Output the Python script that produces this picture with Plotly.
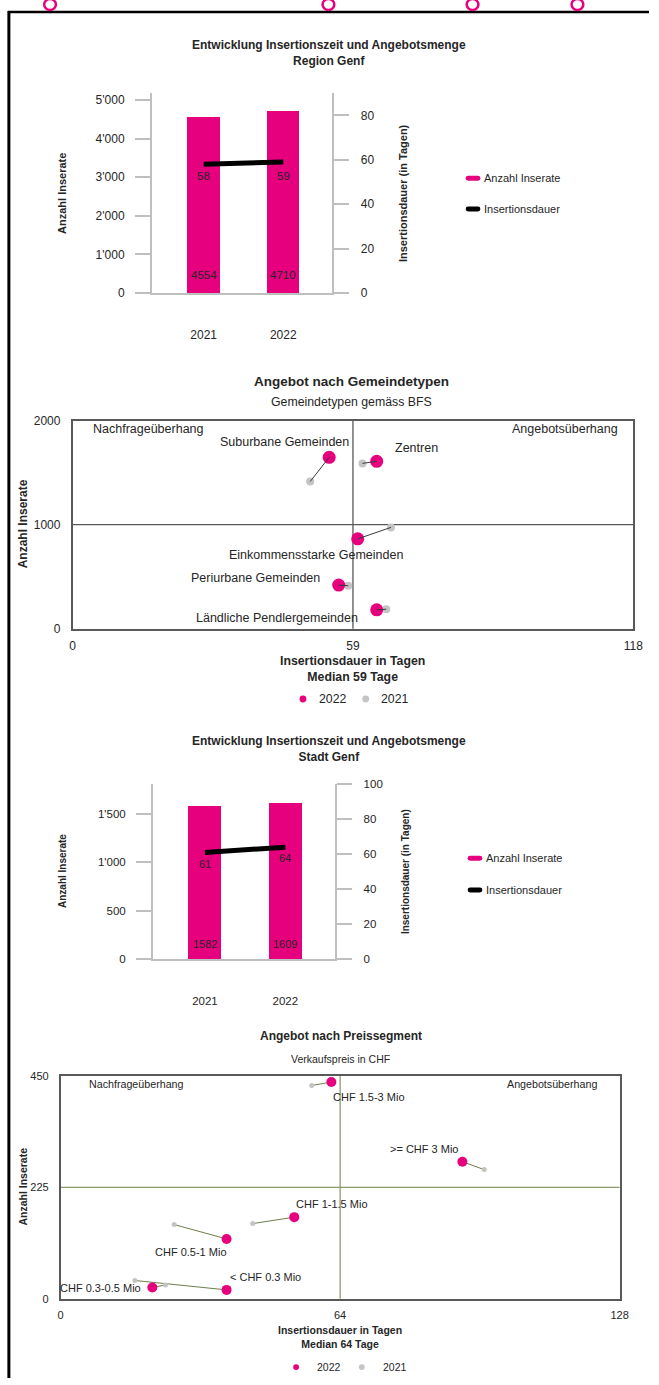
import plotly.graph_objects as go

W, H = 659, 1385
def PX(x): return x / W
def PY(y): return 1 - y / H

PINK = "#E6007E"
GREY_PT = "#C4C4C4"
AXIS_GREY = "#BFBFBF"
BOX = "#595959"
OLIVE = "#8C9B6A"
OLIVE_DARK = "#6E7F48"
TEXT = "#262626"
FONT = "Liberation Sans, Arial, sans-serif"

# ---------------- data ----------------
years = ["2021", "2022"]
region_listings = [4554, 4710]
region_days = [58, 59]
city_listings = [1582, 1609]
city_days = [61, 64]

gem_types = ["Suburbane Gemeinden", "Zentren", "Einkommensstarke Gemeinden",
             "Periurbane Gemeinden", "Ländliche Pendlergemeinden"]
gem_days_2022 = [54, 64, 60, 56, 64]
gem_listings_2022 = [1648, 1610, 864, 419, 181]
gem_days_2021 = [50, 61, 67, 58, 66]
gem_listings_2021 = [1416, 1590, 974, 413, 187]
gem_median_days = 59
gem_median_listings = 1000

price_segments = ["CHF 1.5-3 Mio", ">= CHF 3 Mio", "CHF 1-1.5 Mio",
                  "CHF 0.5-1 Mio", "< CHF 0.3 Mio", "CHF 0.3-0.5 Mio"]
price_days_2022 = [62, 92, 53.5, 38, 38, 21]
price_listings_2022 = [438, 277, 165, 121, 18, 23]
price_days_2021 = [57.5, 97, 44, 26, 17, 24]
price_listings_2021 = [431, 261, 152, 150, 37, 28]
price_median_days = 64
price_median_listings = 225

# label placement (style only): (xanchor, xshift, yshift)
gem_label_style = [("right", 22, 15), ("left", 16, 13), ("center", -42, -16),
                   ("right", -17, 7), ("right", -17, -8)]
price_label_style = [("left", 0, -15), ("right", -2, 13), ("left", 0, 13),
                     ("right", 2, -13), ("left", 1, 13), ("right", -9, -1)]

fig = go.Figure()
annotations = []
shapes = []

def ann(x, y, text, size=12, bold=False, xanchor="center", yanchor="middle",
        angle=0, color=TEXT, xref="paper", yref="paper", xshift=0, yshift=0):
    t = f"<b>{text}</b>" if bold else text
    annotations.append(dict(x=x, y=y, xref=xref, yref=yref, text=t, showarrow=False,
                            xanchor=xanchor, yanchor=yanchor, textangle=angle,
                            xshift=xshift, yshift=yshift,
                            font=dict(family=FONT, size=size, color=color)))

def pill(cx, cy, color, w=15, h=5):
    x0, x1 = PX(cx - w / 2), PX(cx + w / 2)
    y0, y1 = PY(cy - h / 2), PY(cy + h / 2)
    r = PX(h / 2)
    ym = PY(cy)
    path = (f"M {x0+r} {y0} L {x1-r} {y0} Q {x1} {y0} {x1} {ym} Q {x1} {y1} {x1-r} {y1} "
            f"L {x0+r} {y1} Q {x0} {y1} {x0} {ym} Q {x0} {y0} {x0+r} {y0} Z")
    shapes.append(dict(type="path", xref="paper", yref="paper", path=path,
                       fillcolor=color, line=dict(width=0)))

def dot(cx, cy, color, d):
    shapes.append(dict(type="circle", xref="paper", yref="paper",
                       x0=PX(cx - d / 2), x1=PX(cx + d / 2), y0=PY(cy + d / 2), y1=PY(cy - d / 2),
                       fillcolor=color, line=dict(width=0)))

# ---------------- combo charts ----------------
def combo(xa, ya, ya2, xdom, ydom, xrange_, lrange, ldtick, rrange, rdtick,
          listings, days, bar_w, tick_size, cat_standoff, bar_lab_shift, line_lab_shift):
    xn, yn, y2n = xa.replace("x", "xaxis"), ya.replace("y", "yaxis"), ya2.replace("y", "yaxis")
    fig.add_trace(go.Bar(x=years, y=listings, marker=dict(color=PINK, line=dict(width=0)),
                         width=bar_w, xaxis=xa, yaxis=ya, showlegend=False, hoverinfo="skip"))
    fig.add_trace(go.Scatter(x=years, y=days, mode="lines", line=dict(color="black", width=5),
                             xaxis=xa, yaxis=ya2, showlegend=False, hoverinfo="skip"))
    fig.layout[xn] = dict(domain=xdom, type="category", range=xrange_, anchor=ya,
                          showline=True, linecolor=AXIS_GREY, linewidth=2, ticks="",
                          showgrid=False, zeroline=False, ticklabelstandoff=cat_standoff,
                          tickfont=dict(family=FONT, size=tick_size, color=TEXT), fixedrange=True)
    common = dict(showline=True, linecolor=AXIS_GREY, linewidth=2, ticks="outside", ticklen=15,
                  tickcolor=AXIS_GREY, tickwidth=1.5, showgrid=False, zeroline=False,
                  tickfont=dict(family=FONT, size=tick_size, color=TEXT), fixedrange=True)
    fig.layout[yn] = dict(domain=ydom, range=lrange, tick0=0, dtick=ldtick, anchor=xa,
                          separatethousands=True, ticklabelstandoff=8, **common)
    fig.layout[y2n] = dict(range=rrange, tick0=0, dtick=rdtick, overlaying=ya, side="right",
                           anchor=xa, ticklabelstandoff=9, **common)
    for i, v in enumerate(listings):
        ann(i, 0, str(v), size=tick_size - 0.5, xref=xa, yref=ya, yshift=bar_lab_shift)
    for i, (d, s) in enumerate(zip(days, line_lab_shift)):
        ann(i, d, str(d), size=tick_size - 0.5, xref=xa, yref=ya2, yshift=s)

# chart 1 (Region Genf)
combo("x", "y", "y2", [PX(152), PX(336)], [PY(289), PY(87)], [-0.648, 1.616],
      [0, 5180], 1000, [0, 90], 20, region_listings, region_days, 0.406, 12, 30, 18, [-12, -14])
ann(PX(333), PY(46), "Entwicklung Insertionszeit und Angebotsmenge<br>Region Genf", size=12, bold=True)
ann(PX(60), PY(188), "Anzahl Inserate", size=11, bold=True, angle=-90)
ann(PX(408), PY(188), "Insertionsdauer (in Tagen)", size=11, bold=True, angle=-90)
pill(479.5, 173, PINK)
ann(PX(489), PY(173), "Anzahl Inserate", size=11, xanchor="left")
pill(479.5, 204, "black")
ann(PX(489), PY(204), "Insertionsdauer", size=11, xanchor="left")

# chart 3 (Stadt Genf)
combo("x3", "y4", "y5", [PX(153), PX(339)], [PY(962), PY(785)], [-0.646, 1.621],
      [0, 1806], 500, [0, 100], 20, city_listings, city_days, 0.41, 11.5, 30, 15, [-12, -11])
ann(PX(333), PY(749.5), "Entwicklung Insertionszeit und Angebotsmenge<br>Stadt Genf", size=12, bold=True)
ann(PX(60), PY(873), "Anzahl Inserate", size=10, bold=True, angle=-90)
ann(PX(410), PY(873), "Insertionsdauer (in Tagen)", size=10, bold=True, angle=-90)
pill(481.5, 860, PINK)
ann(PX(491), PY(860), "Anzahl Inserate", size=11, xanchor="left")
pill(481.5, 892, "black")
ann(PX(491), PY(892), "Insertionsdauer", size=11, xanchor="left")

# ---------------- scatter (quadrant) charts ----------------
def quadrant(xa, ya, xdom, ydom, xmax, ymax, med_x, med_y, d21, l21, d22, l22, names,
             styles, tick_size, label_size, pink_size, grey_size, med_color, conn_color,
             conn_on_top):
    xn, yn = xa.replace("x", "xaxis"), ya.replace("y", "yaxis")
    conn = []
    for a, b, c, d in zip(d21, l21, d22, l22):
        conn.append(go.Scatter(x=[a, c], y=[b, d], mode="lines", line=dict(color=conn_color, width=1),
                               xaxis=xa, yaxis=ya, showlegend=False, hoverinfo="skip"))
    if not conn_on_top:
        for t in conn:
            fig.add_trace(t)
    fig.add_trace(go.Scatter(x=d21, y=l21, mode="markers",
                             marker=dict(color=GREY_PT, size=grey_size, line=dict(width=0)),
                             xaxis=xa, yaxis=ya, showlegend=False, hoverinfo="skip"))
    fig.add_trace(go.Scatter(x=d22, y=l22, mode="markers",
                             marker=dict(color=PINK, size=pink_size, line=dict(width=0)),
                             xaxis=xa, yaxis=ya, showlegend=False, hoverinfo="skip"))
    if conn_on_top:
        for t in conn:
            fig.add_trace(t)
    box = dict(showline=True, mirror=True, linecolor=BOX, linewidth=1.5, ticks="",
               showgrid=False, zeroline=False, fixedrange=True,
               tickfont=dict(family=FONT, size=tick_size, color=TEXT))
    fig.layout[xn] = dict(domain=xdom, range=[0, xmax], tickvals=[0, med_x, xmax], anchor=ya,
                          ticklabelstandoff=5, **box)
    fig.layout[yn] = dict(domain=ydom, range=[0, ymax], tickvals=[0, med_y, ymax], anchor=xa,
                          ticklabelstandoff=8, **box)
    shapes.append(dict(type="line", xref=xa, yref=f"{ya} domain", x0=med_x, x1=med_x, y0=0, y1=1,
                       line=dict(color=med_color, width=1.3), layer="below"))
    shapes.append(dict(type="line", xref=f"{xa} domain", yref=ya, x0=0, x1=1, y0=med_y, y1=med_y,
                       line=dict(color=med_color, width=1.3), layer="below"))
    for n, x, y, (xa_, xs, ys) in zip(names, d22, l22, styles):
        ann(x, y, n, size=label_size, xanchor=xa_, xref=xa, yref=ya, xshift=xs, yshift=ys)

# chart 2 (Gemeindetypen)
quadrant("x2", "y3", [PX(71), PX(643)], [PY(628), PY(418)], 2 * gem_median_days,
         2 * gem_median_listings, gem_median_days, gem_median_listings,
         gem_days_2021, gem_listings_2021, gem_days_2022, gem_listings_2022, gem_types,
         gem_label_style, 12, 12.5, 13, 8, BOX, "#3A3A3A", True)
ann(PX(356), PY(378), "Angebot nach Gemeindetypen", size=13.5, bold=True)
ann(PX(356), PY(399), "Gemeindetypen gemäss BFS", size=12.3)
ann(PX(90), PY(426), "Nachfrageüberhang", size=12.5, xanchor="left")
ann(PX(629), PY(426), "Angebotsüberhang", size=12.5, xanchor="right")
ann(PX(20), PY(522), "Anzahl Inserate", size=12, bold=True, angle=-90)
ann(PX(357), PY(668.5), f"Insertionsdauer in Tagen<br>Median {gem_median_days} Tage", size=12.3, bold=True)
dot(306, 699, PINK, 7)
ann(PX(320), PY(699), "2022", size=12.3, xanchor="left")
dot(370, 699, GREY_PT, 7)
ann(PX(384), PY(699), "2021", size=12.3, xanchor="left")

# chart 4 (Preissegment)
quadrant("x4", "y6", [PX(58.8), PX(629)], [PY(1305), PY(1080)], 2 * price_median_days,
         2 * price_median_listings, price_median_days, price_median_listings,
         price_days_2021, price_listings_2021, price_days_2022, price_listings_2022, price_segments,
         price_label_style, 11, 11, 10, 5, OLIVE, OLIVE_DARK, False)
ann(PX(344.5), PY(1040), "Angebot nach Preissegment", size=12, bold=True)
ann(PX(344), PY(1063), "Verkaufspreis in CHF", size=10.5)
ann(PX(86), PY(1088), "Nachfrageüberhang", size=10.7, xanchor="left")
ann(PX(608), PY(1088), "Angebotsüberhang", size=10.7, xanchor="right")
ann(PX(20), PY(1192), "Anzahl Inserate", size=10.5, bold=True, angle=-90)
ann(PX(344), PY(1344), f"Insertionsdauer in Tagen<br>Median {price_median_days} Tage", size=10.5, bold=True)
dot(299, 1374, PINK, 6)
ann(PX(318), PY(1374), "2022", size=10.5, xanchor="left")
dot(366, 1374, GREY_PT, 6)
ann(PX(386), PY(1374), "2021", size=10.5, xanchor="left")

# ---------------- page frame & cut-off heading ----------------
shapes.append(dict(type="line", xref="paper", yref="paper", x0=PX(5), x1=1, y0=PY(5), y1=PY(5),
                   line=dict(color="black", width=2.5)))
shapes.append(dict(type="line", xref="paper", yref="paper", x0=PX(6), x1=PX(6), y0=PY(4), y1=0,
                   line=dict(color="black", width=3)))
for cx in [48, 332, 479, 586]:
    shapes.append(dict(type="circle", xref="paper", yref="paper", x0=PX(cx - 6), x1=PX(cx + 6),
                       y0=PY(3), y1=PY(-8), line=dict(color=PINK, width=2.5)))

fig.update_layout(width=W, height=H, autosize=False, margin=dict(l=0, r=0, t=0, b=0),
                  paper_bgcolor="white", plot_bgcolor="white", showlegend=False,
                  separators=".'", annotations=annotations, shapes=shapes,
                  font=dict(family=FONT, color=TEXT), bargap=0)
fig.write_html("out.html", config={"displayModeBar": False},
               post_script="document.body.style.margin='0';document.body.style.padding='0';"
                           "document.body.style.overflow='hidden';")
